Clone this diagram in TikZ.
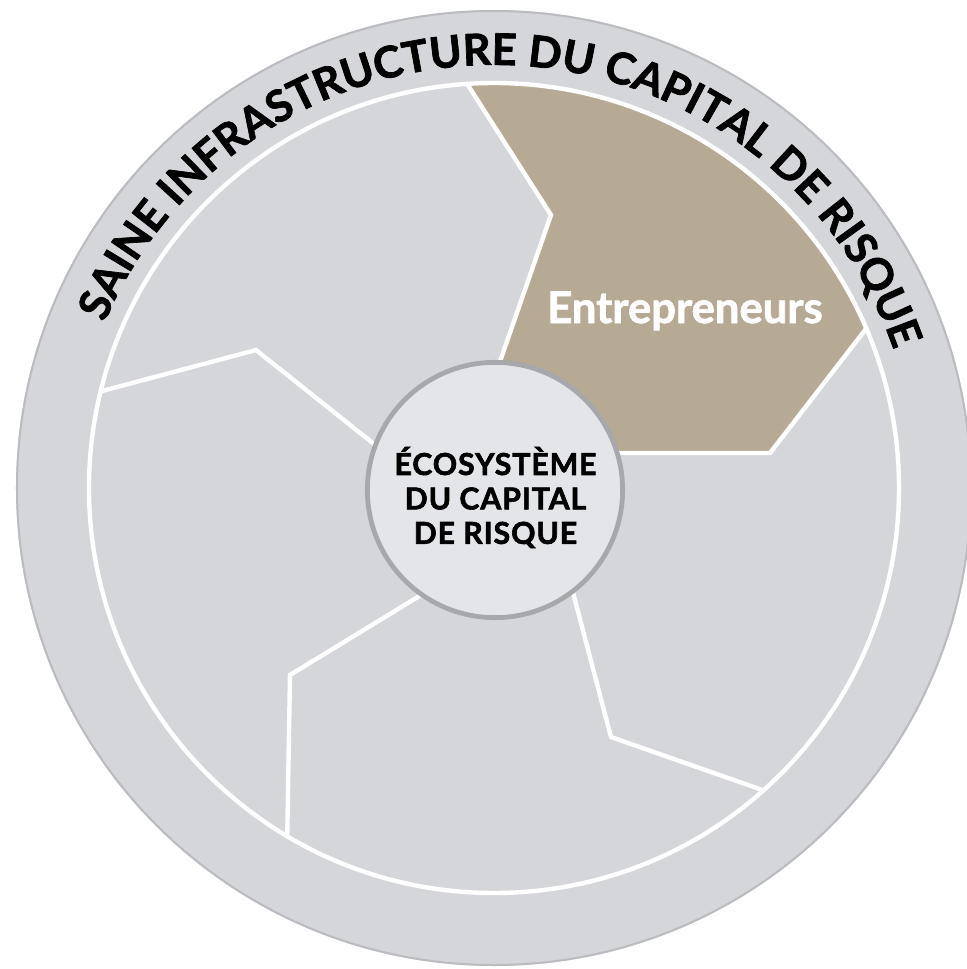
\documentclass[tikz,border=0pt]{standalone}
\usepackage{fontspec}
\setmainfont{Lato}
\newfontfamily\heavyfont{Lato}[BoldFeatures={FakeBold=1.6}]
\newfontfamily\hubfont{Lato}[BoldFeatures={FakeBold=2.0}, LetterSpace=3]
\usepackage{tikz}
\usetikzlibrary{decorations.text}
\usepackage{xcolor}
\definecolor{vcgrey}{RGB}{213,214,218}
\definecolor{vcrim}{RGB}{186,188,192}
\definecolor{vctan}{RGB}{183,170,149}
\definecolor{vchub}{RGB}{227,229,232}
\definecolor{vchubline}{RGB}{166,168,171}
\tikzstyle{divider} = [line width=0.11cm, white, line join=miter]
\tikzstyle{hub} = [circle, minimum size=6.38cm, inner sep=0pt, fill=vchub, draw=vchubline, line width=0.12cm]
\tikzstyle{hubtext} = [align=center, inner sep=0pt, font=\hubfont\bfseries\fontsize{21.5}{24.5}\selectfont]
\tikzstyle{segtext} = [inner sep=0pt, text=white, font=\heavyfont\bfseries\fontsize{31}{36}\selectfont]
\newcommand{\ringfont}{\heavyfont\bfseries\fontsize{31}{33}\selectfont}

\begin{document}
\begin{tikzpicture}[x=0.025cm, y=0.025cm]
\useasboundingbox (-494,-481) rectangle (473,488);
% Ring
\fill[vcgrey] (0,0) circle[radius=478];
\draw[vcrim, line width=0.05cm] (0,0) circle[radius=477];

% Spoke points (ring, kink, hub end)
\coordinate (r1) at (93.8:405);  \coordinate (k1) at (57,273);   \coordinate (e1) at (2,115);
\coordinate (r2) at (23.2:405);  \coordinate (k2) at (276,35);   \coordinate (e2) at (116,35);
\coordinate (r3) at (-48.3:405); \coordinate (k3) at (117,-249); \coordinate (e3) at (77,-97);
\coordinate (r4) at (-120.7:405);\coordinate (k4) at (-204,-187);\coordinate (e4) at (-68,-104);
\coordinate (r5) at (166.2:405); \coordinate (k5) at (-238,138); \coordinate (e5) at (-115,40);

% Entrepreneurs segment
\fill[vctan] (0,0) -- (e2) -- (k2) -- (r2) arc[start angle=23.2, end angle=93.8, radius=405] -- (k1) -- (e1) -- cycle;

% Dividers
\draw[divider] (r1) -- (k1) -- (e1);
\draw[divider] (r2) -- (k2) -- (e2);
\draw[divider] (r3) -- (k3) -- (e3);
\draw[divider] (r4) -- (k4) -- (e4);
\draw[divider] (r5) -- (k5) -- (e5);
\draw[divider] (0,0) circle[radius=405];

% Hub
\node (hub) [hub] at (1,-2) {};
\node (hubtext) [hubtext] at (1.5,-9.5) {ÉCOSYSTÈME\\DU CAPITAL\\DE RISQUE};
\node (entre) [segtext, anchor=base] at (191,165) {Entrepreneurs};

% Ring label
\path[decorate, decoration={text along path, text={|\ringfont|SAINE INFRASTRUCTURE DU CAPITAL DE RISQUE}, text align=center}]
  (157:423) arc[start angle=157, end angle=19, radius=423];
\end{tikzpicture}
\end{document}
